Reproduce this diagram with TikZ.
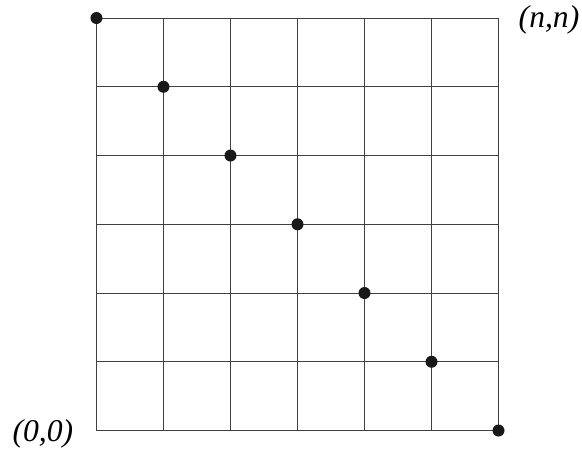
\documentclass[tikz,border=0pt]{standalone}
\usepackage{fontspec}
\setmainfont{Liberation Serif}
\usepackage{tikz}
\usetikzlibrary{positioning}
\tikzset{
  pt/.style={circle,fill=black!90,inner sep=0pt,minimum size=3.6mm},
  gridline/.style={line width=.8pt,black!75},
  lab/.style={font=\fontsize{27}{27}\selectfont\itshape,inner sep=0pt}
}
\begin{document}
\begin{tikzpicture}[x=2.01cm,y=2.0625cm]
  \useasboundingbox (-1.440,-0.342) rectangle (7.246,6.262);
  \foreach \k in {0,...,6} {
    \draw[gridline] (\k,0) -- (\k,6);
    \draw[gridline] (0,\k) -- (6,\k);
  }
  % points on the antidiagonal
  \foreach \i in {0,...,6}
    \node[pt] (p\i) at (\i,6-\i) {};
  \node[lab] (orig) at (-0.80,-0.05) {(0,0)};
  \node[lab] (corner) at (6.754,5.97) {(n,n)};
\end{tikzpicture}
\end{document}
